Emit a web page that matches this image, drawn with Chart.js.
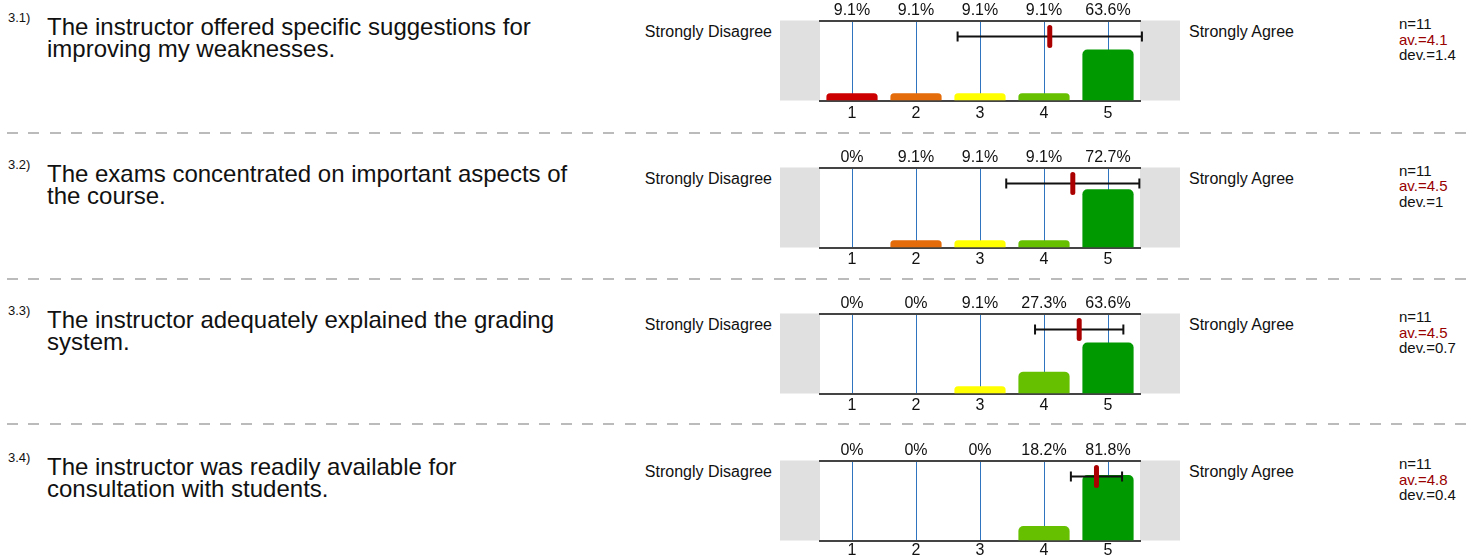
<!DOCTYPE html>
<html>
<head>
<meta charset="utf-8">
<title>Course evaluation - section 3</title>
<script src="https://cdn.jsdelivr.net/npm/chart.js"></script>
<style>
    body {
        margin: 0;
        width: 1477px;
        height: 557px;
        overflow: hidden;
        background: #fff;
        font-family: Arial, "Liberation Sans", sans-serif;
        color: #111;
    }
    .row { position: absolute; left: 0; width: 1477px; height: 146px; }
    .num { position: absolute; left: 8px; top: 11px; font-size: 13px; line-height: 13px; }
    .question { position: absolute; left: 47px; top: 16px; font-size: 24px; line-height: 22px; white-space: nowrap; }
    .left-label { position: absolute; left: 572px; width: 200px; text-align: right; top: 23px; font-size: 16px; line-height: 18px; }
    .right-label { position: absolute; left: 1189px; top: 23px; font-size: 16px; line-height: 18px; }
    .stats { position: absolute; left: 1399px; top: 16px; font-size: 15px; line-height: 15.5px; }
    .stats .av { color: #990000; }
    .row canvas { position: absolute; left: 780px; top: 0; }
    .sep {
        position: absolute; left: 7px; right: 0; height: 2px;
        background: repeating-linear-gradient(to right, #bbb 0 11px, transparent 11px 21.3px);
    }
</style>
</head>
<body>
<script>
// ---------------------------------------------
// Data
// ---------------------------------------------
const questionIds = ['3.1)', '3.2)', '3.3)', '3.4)'];
const questionLines = [
    ['The instructor offered specific suggestions for', 'improving my weaknesses.'],
    ['The exams concentrated on important aspects of', 'the course.'],
    ['The instructor adequately explained the grading', 'system.'],
    ['The instructor was readily available for', 'consultation with students.']
];
const scaleLabels = ['1', '2', '3', '4', '5'];
const leftPole = 'Strongly Disagree';
const rightPole = 'Strongly Agree';

const pctQ1 = [9.1, 9.1, 9.1, 9.1, 63.6];
const pctQ2 = [0, 9.1, 9.1, 9.1, 72.7];
const pctQ3 = [0, 0, 9.1, 27.3, 63.6];
const pctQ4 = [0, 0, 0, 18.2, 81.8];
const percentages = [pctQ1, pctQ2, pctQ3, pctQ4];

const counts = [11, 11, 11, 11];
const avLabels = ['4.1', '4.5', '4.5', '4.8'];
const devLabels = ['1.4', '1', '0.7', '0.4'];
// mean and deviation as drawn by the marker / whiskers
const means = [4.09, 4.45, 4.55, 4.82];
const devs = [1.44, 1.04, 0.69, 0.40];

const barColors = ['#cc0000', '#e46c0a', '#ffff00', '#66c000', '#009900'];

// ---------------------------------------------
// Layout / style
// ---------------------------------------------
const FONT = 'Arial, "Liberation Sans", sans-serif';
const ROW_STEP = 146.7;
const SEP_TOPS = [132, 278, 423];
const TICK_PADDING = [3, 2, 2, 0];
const AXIS_COLOR = '#444';
const GRID_COLOR = '#2f74bf';
const PANEL_COLOR = '#e0e0e0';
const MARKER_COLOR = '#aa0000';

Chart.defaults.font.family = FONT;

// grey boxes left and right of the plot
const sidePanels = {
    id: 'sidePanels',
    beforeDraw(chart) {
        const { ctx, chartArea: a, width } = chart;
        ctx.save();
        ctx.fillStyle = PANEL_COLOR;
        ctx.fillRect(0, a.top, a.left, a.bottom - a.top);
        ctx.fillRect(a.right, a.top, width - a.right, a.bottom - a.top);
        ctx.restore();
    }
};

// mean marker and deviation whiskers
const meanMarker = {
    id: 'meanMarker',
    afterDraw(chart, args, opts) {
        const { ctx } = chart;
        const x = chart.scales.x;
        const y = chart.scales.y.getPixelForValue(80);
        const xm = x.getPixelForValue(opts.mean - 1);
        const x0 = x.getPixelForValue(opts.mean - opts.dev - 1);
        const x1 = x.getPixelForValue(opts.mean + opts.dev - 1);

        ctx.save();
        ctx.strokeStyle = '#111';
        ctx.lineWidth = 2;
        ctx.beginPath();
        ctx.moveTo(x0, y);
        ctx.lineTo(x1, y);
        ctx.moveTo(x0, y - 5);
        ctx.lineTo(x0, y + 5);
        ctx.moveTo(x1, y - 5);
        ctx.lineTo(x1, y + 5);
        ctx.stroke();

        ctx.fillStyle = MARKER_COLOR;
        ctx.beginPath();
        ctx.roundRect(xm - 2.5, y - 11.5, 5, 23, 2.5);
        ctx.fill();
        ctx.restore();
    }
};

function buildRow(i) {
    const row = document.createElement('div');
    row.className = 'row';
    row.style.top = (i * ROW_STEP) + 'px';
    row.innerHTML = `
        <div class="num">${questionIds[i]}</div>
        <div class="question">${questionLines[i].join('<br>')}</div>
        <div class="left-label">${leftPole}</div>
        <div class="right-label">${rightPole}</div>
        <div class="stats">n=${counts[i]}<br><span class="av">av.=${avLabels[i]}</span><br>dev.=${devLabels[i]}</div>
    `;
    const canvas = document.createElement('canvas');
    canvas.width = 400;
    canvas.height = 130;
    row.appendChild(canvas);
    document.body.appendChild(row);

    const pct = percentages[i];
    new Chart(canvas, {
        type: 'bar',
        data: {
            labels: scaleLabels,
            datasets: [{
                data: pct,
                backgroundColor: barColors,
                borderWidth: 0,
                borderRadius: { topLeft: 5, topRight: 5, bottomLeft: 0, bottomRight: 0 },
                barPercentage: 0.8,
                categoryPercentage: 1
            }]
        },
        options: {
            responsive: false,
            animation: false,
            layout: { padding: { left: 40, right: 40, top: 0, bottom: 0 } },
            plugins: {
                legend: { display: false },
                tooltip: { enabled: false },
                meanMarker: { mean: means[i], dev: devs[i] }
            },
            scales: {
                x: {
                    position: 'bottom',
                    offset: true,
                    z: 1,
                    grid: { offset: false, color: GRID_COLOR, lineWidth: 1, drawTicks: false },
                    border: { color: AXIS_COLOR, width: 2 },
                    ticks: { padding: TICK_PADDING[i], color: '#111', font: { size: 16 } },
                    afterFit: s => { s.height = 29.5; }
                },
                xTop: {
                    type: 'category',
                    labels: pct.map(v => v + '%'),
                    position: 'top',
                    offset: true,
                    grid: { display: false, drawTicks: false },
                    border: { color: AXIS_COLOR, width: 2 },
                    ticks: { padding: 0, color: '#111', font: { size: 16 } },
                    afterFit: s => { s.height = 20.5; }
                },
                y: { display: false, min: 0, max: 100 }
            }
        },
        plugins: [sidePanels, meanMarker]
    });
}

questionIds.forEach((q, i) => buildRow(i));

SEP_TOPS.forEach(t => {
    const sep = document.createElement('div');
    sep.className = 'sep';
    sep.style.top = t + 'px';
    document.body.appendChild(sep);
});
</script>
</body>
</html>
